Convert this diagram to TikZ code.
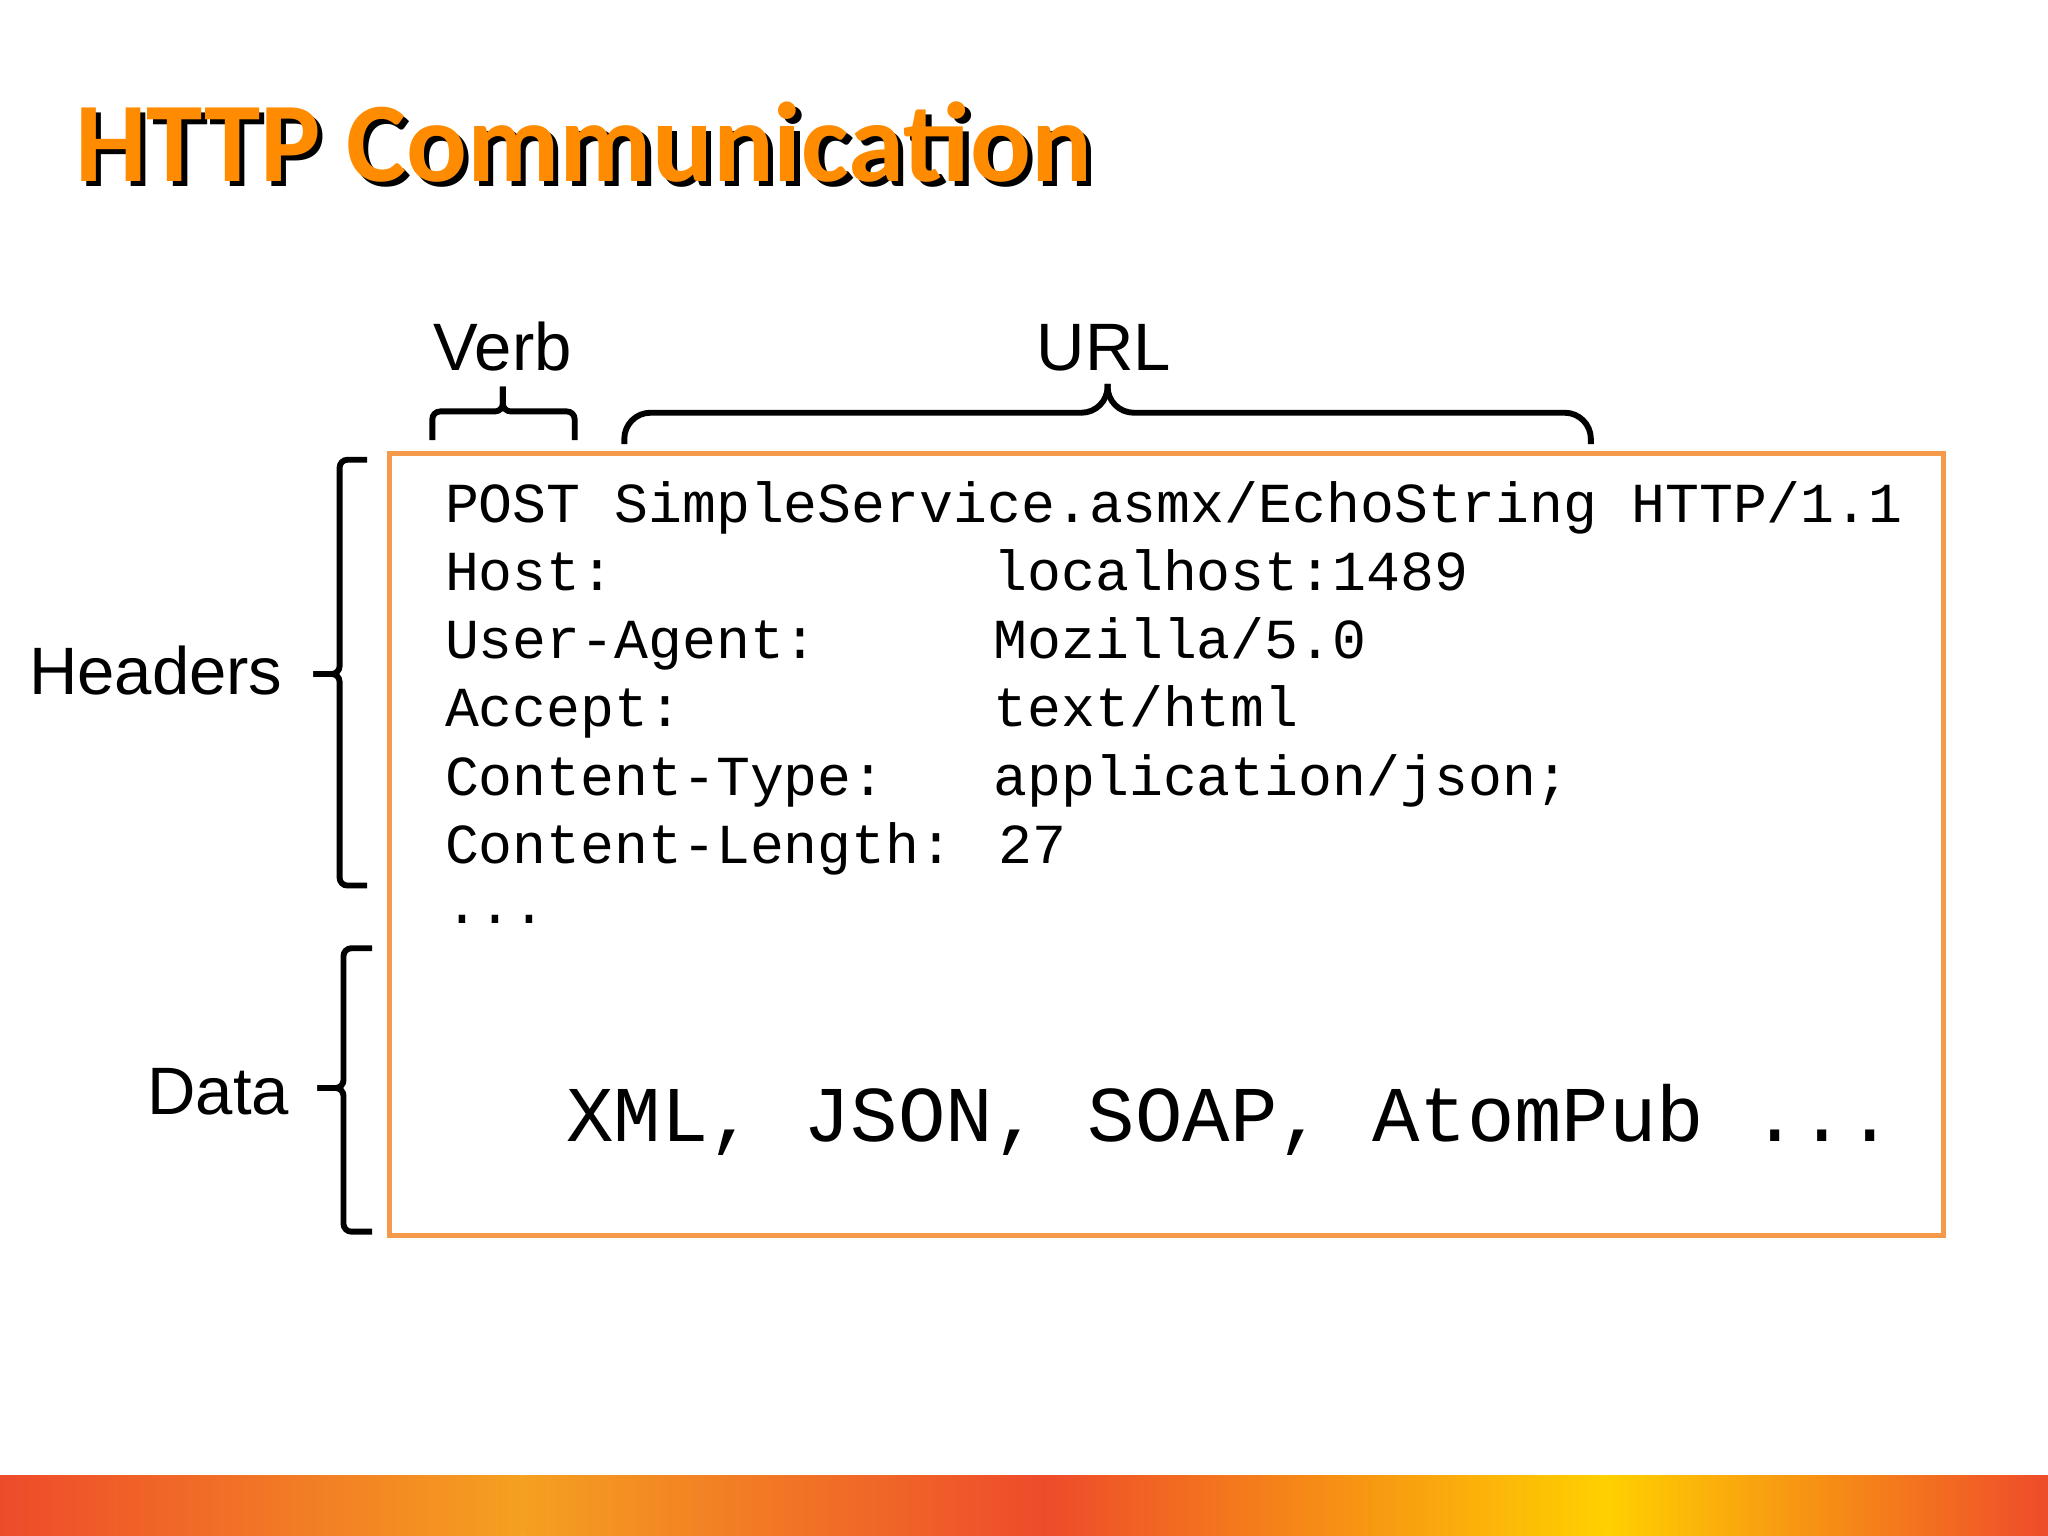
\documentclass[tikz,border=0pt]{standalone}
\usepackage{fontspec}
\setmainfont{Liberation Sans}
\newfontfamily\mono{Liberation Mono}
\newfontfamily\ttl{Carlito}
\definecolor{bred}{HTML}{EE4B2B}
\definecolor{bor}{HTML}{F5A020}
\definecolor{byel}{HTML}{FFD000}
\definecolor{boxc}{HTML}{F49A4A}
\tikzset{
  code/.style={anchor=base west, inner sep=0pt, font=\mono\fontsize{12.3pt}{14pt}\selectfont},
  lbl/.style={inner sep=0pt, font=\fontsize{14.6pt}{16pt}\selectfont},
  brace/.style={line width=0.045cm, rounded corners=0.06cm},
  ubrace/.style={line width=0.045cm, rounded corners=0.2cm},
}
\begin{document}
\begin{tikzpicture}[x=0.01cm,y=-0.01cm]
\useasboundingbox (0,0) rectangle (1568,1176);
\fill[white] (0,0) rectangle (1568,1176);
\shade[left color=bred, right color=bor] (0,1130) rectangle (400,1176);
\shade[left color=bor, right color=bred] (400,1130) rectangle (800,1176);
\shade[left color=bred, right color=byel] (800,1130) rectangle (1230,1176);
\shade[left color=byel, right color=bred] (1230,1130) rectangle (1568,1176);
% title
\node[anchor=base west, inner sep=0pt, font=\ttl\bfseries\fontsize{24.7pt}{28pt}\selectfont, text=black] at (61,143) {HTTP Communication};
\node[anchor=base west, inner sep=0pt, font=\ttl\bfseries\fontsize{24.7pt}{28pt}\selectfont, text=orange!90!yellow] (title) at (57,139) {HTTP Communication};
% box
\draw[boxc, line width=0.035cm] (298,347) rectangle (1488,946);
% code
\node[code] (l1) at (340,400) {POST SimpleService.asmx/EchoString HTTP/1.1};
\node[code] (h1) at (340,452) {Host:};
\node[code] (v1) at (760,452) {localhost:1489};
\node[code] (h2) at (340,504) {User-Agent:};
\node[code] (v2) at (760,504) {Mozilla/5.0};
\node[code] (h3) at (340,556) {Accept:};
\node[code] (v3) at (760,556) {text/html};
\node[code] (h4) at (340,609) {Content-Type:};
\node[code] (v4) at (760,609) {application/json;};
\node[code] (h5) at (340,661) {Content-Length: 27};
\node[code] (h6) at (340,707) {...};
\node[code, font=\mono\fontsize{17.2pt}{20pt}\selectfont] (data) at (433,874) {XML, JSON, SOAP, AtomPub ...};
% labels
\node[lbl, anchor=base] (verb) at (385,284) {Verb};
\node[lbl, anchor=base] (url) at (845,284) {URL};
\node[lbl, anchor=base east] (hdr) at (217,532) {Headers};
\node[lbl, anchor=base east] (dat) at (222,853) {Data};
% braces
\draw[brace] (331,337) -- (331,315) -- (385,315) -- (385,296);
\draw[brace] (385,296) -- (385,315) -- (440,315) -- (440,337);
\draw[ubrace] (478,340) -- (478,316) -- (848,316) -- (848,294);
\draw[ubrace] (848,294) -- (848,316) -- (1218,316) -- (1218,340);
\draw[brace] (281,352) -- (260,352) -- (260,516) -- (240,516);
\draw[brace] (240,516) -- (260,516) -- (260,678) -- (281,678);
\draw[brace] (285,726) -- (263,726) -- (263,833) -- (243,833);
\draw[brace] (243,833) -- (263,833) -- (263,943) -- (285,943);
\end{tikzpicture}
\end{document}
